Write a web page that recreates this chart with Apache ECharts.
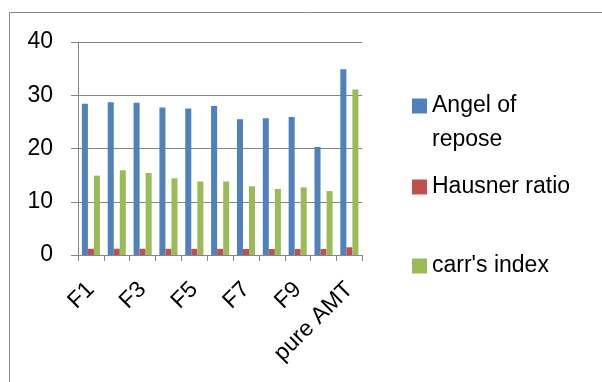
<!DOCTYPE html>
<html>
<head>
<meta charset="utf-8">
<script src="https://cdn.jsdelivr.net/npm/echarts@6/dist/echarts.min.js"></script>
<style>
html,body{margin:0;padding:0;background:#fff;}
#c{width:602px;height:382px;}
</style>
</head>
<body>
<div id="c"></div>
<script>
const categories = ['F1','F2','F3','F4','F5','F6','F7','F8','F9','F10','pure AMT'];
const angleOfRepose = [28.4, 28.7, 28.6, 27.7, 27.5, 28.0, 25.5, 25.7, 25.9, 20.3, 34.9];
const hausnerRatio = [1.17, 1.18, 1.17, 1.16, 1.16, 1.16, 1.13, 1.12, 1.13, 1.12, 1.45];
const carrsIndex = [14.9, 15.9, 15.4, 14.4, 13.8, 13.8, 12.9, 12.4, 12.7, 12.0, 31.1];
const yTicks = [0, 10, 20, 30, 40];

const FONT = '"Liberation Sans", Arial, sans-serif';
const chart = echarts.init(document.getElementById('c'), null, {renderer: 'canvas'});

function legendAt(name, top, extra) {
  return Object.assign({
    data: [name],
    left: 412,
    top: top,
    orient: 'vertical',
    icon: 'rect',
    itemWidth: 15,
    itemHeight: 15,
    itemGap: 0,
    padding: 0,
    selectedMode: false,
    textStyle: {fontFamily: FONT, fontSize: 23, color: '#000', lineHeight: 34}
  }, extra || {});
}

chart.setOption({
  backgroundColor: '#fff',
  animation: false,
  graphic: [{
    type: 'rect',
    shape: {x: 9.5, y: 12.5, width: 620, height: 420},
    style: {fill: 'none', stroke: '#868686', lineWidth: 1},
    silent: true
  }],
  grid: {left: 78, top: 42, right: 239.7, bottom: 127, containLabel: false},
  legend: [
    legendAt('Angel of repose', 55, {
      formatter: function(){ return ' \nAngel of\nrepose'; }
    }),
    legendAt('Hausner ratio', 170),
    legendAt("carr's index", 249)
  ],
  xAxis: {
    type: 'category',
    data: categories,
    boundaryGap: true,
    axisLine: {lineStyle: {color: '#868686', width: 1}},
    axisTick: {show: true, interval: 0, length: 6, lineStyle: {color: '#868686'}},
    axisLabel: {interval: 1, rotate: 45, margin: 31, fontFamily: FONT, fontSize: 23, color: '#000'}
  },
  yAxis: {
    type: 'value',
    min: yTicks[0],
    max: yTicks[yTicks.length - 1],
    interval: 10,
    axisLine: {show: true, lineStyle: {color: '#868686', width: 1}},
    axisTick: {show: true, length: 7, lineStyle: {color: '#868686'}},
    splitLine: {show: true, lineStyle: {color: '#868686', width: 1}},
    axisLabel: {margin: 25, fontFamily: FONT, fontSize: 23, color: '#000'}
  },
  series: [
    {name: 'Angel of repose', type: 'bar', data: angleOfRepose, itemStyle: {color: '#4F81BD'}, barGap: '0%', barCategoryGap: '30%'},
    {name: 'Hausner ratio', type: 'bar', data: hausnerRatio, itemStyle: {color: '#C0504D'}, barGap: '0%', barCategoryGap: '30%'},
    {name: "carr's index", type: 'bar', data: carrsIndex, itemStyle: {color: '#9BBB59'}, barGap: '0%', barCategoryGap: '30%'}
  ]
});
</script>
</body>
</html>
